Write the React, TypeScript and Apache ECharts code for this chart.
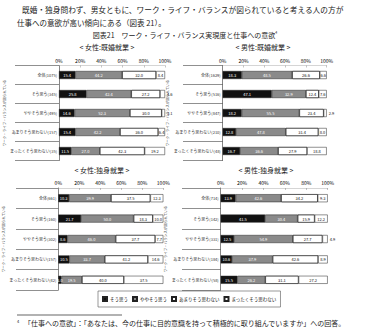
import React, { useEffect, useRef } from 'react';
import * as echarts from 'echarts';

const seriesNames = ['そう思う', 'ややそう思う', 'あまりそう思わない', 'まったくそう思わない'];
const yTitle = 'ワーク・ライフ・バランスが図られている';

const catsFemaleMarried = ['全体(1075)', 'そう思う(345)', 'ややそう思う(495)', 'あまりそう思わない(157)', 'まったくそう思わない(35)'];
const catsMaleMarried = ['全体(1629)', 'そう思う(516)', 'ややそう思う(847)', 'あまりそう思わない(210)', 'まったくそう思わない(48)'];
const catsFemaleSingle = ['全体(661)', 'そう思う(160)', 'ややそう思う(302)', 'あまりそう思わない(157)', 'まったくそう思わない(42)'];
const catsMaleSingle = ['全体(714)', 'そう思う(142)', 'ややそう思う(331)', 'あまりそう思わない(184)', 'まったくそう思わない(58)'];

const fmSou = [15.4, 25.8, 14.6, 15.4, 11.5];
const fmYaya = [44.2, 42.4, 52.3, 42.2, 27.0];
const fmAmari = [32.0, 27.2, 30.0, 36.0, 42.3];
const fmMattaku = [8.4, 4.6, 3.1, 6.4, 19.2];

const mmSou = [18.3, 47.1, 18.2, 12.8, 16.7];
const mmYaya = [48.5, 32.9, 55.5, 47.8, 36.6];
const mmAmari = [26.6, 12.4, 23.4, 31.4, 27.9];
const mmMattaku = [6.6, 7.6, 2.9, 8.0, 18.8];

const fsSou = [10.3, 21.7, 8.6, 10.5, 3.0];
const fsYaya = [39.9, 50.0, 46.0, 33.7, 19.5];
const fsAmari = [37.5, 18.3, 37.7, 41.2, 40.0];
const fsMattaku = [12.3, 10.0, 7.7, 14.6, 37.5];

const msSou = [13.9, 41.5, 12.5, 10.6, 15.5];
const msYaya = [42.6, 30.4, 54.9, 37.9, 26.2];
const msAmari = [34.2, 15.9, 27.7, 42.6, 31.1];
const msMattaku = [9.3, 12.2, 4.9, 8.9, 27.2];

const FONT = "'Noto Sans CJK JP', 'Noto Sans', sans-serif";

const panels = [
  { cats: catsFemaleMarried, vals: [fmSou, fmYaya, fmAmari, fmMattaku], grid: { left: 59, top: 65.5, width: 106, height: 95 }, boxLeft: 15 },
  { cats: catsMaleMarried, vals: [mmSou, mmYaya, mmAmari, mmMattaku], grid: { left: 222.7, top: 65.5, width: 104, height: 95 }, boxLeft: 183 },
  { cats: catsFemaleSingle, vals: [fsSou, fsYaya, fsAmari, fsMattaku], grid: { left: 58.3, top: 188, width: 105, height: 102 }, boxLeft: 16 },
  { cats: catsMaleSingle, vals: [msSou, msYaya, msAmari, msMattaku], grid: { left: 220.7, top: 188, width: 107, height: 102 }, boxLeft: 182 },
];

const fills = ['#111111', '#8a8a8a', '#ffffff', '#ffffff'];
const labelColors = ['#ffffff', '#ffffff', '#111111', '#111111'];

export default function App() {
  const ref = useRef<HTMLDivElement>(null);
  useEffect(() => {
    if (!ref.current) return;
    const chart = echarts.init(ref.current, null, { renderer: 'svg' });
    const grids: any[] = [];
    const xAxes: any[] = [];
    const yAxes: any[] = [];
    const series: any[] = [];
    panels.forEach((p, i) => {
      grids.push({ ...p.grid, containLabel: false });
      xAxes.push({
        gridIndex: i, type: 'value', position: 'top', min: 0, max: 100, interval: 20,
        axisLabel: { show: true, formatter: '{value}%', fontSize: 5, margin: 3, color: '#000', fontFamily: FONT },
        axisLine: { show: true, lineStyle: { color: '#aaa', width: 0.5 } },
        axisTick: { show: true, inside: true, length: 2, lineStyle: { color: '#888', width: 0.5 } },
        splitLine: { show: false },
      });
      const tickLen = p.grid.left - p.boxLeft;
      yAxes.push({
        gridIndex: i, type: 'category', inverse: true, data: p.cats,
        axisLabel: { fontSize: 4, margin: 2, color: '#333', fontFamily: FONT },
        axisLine: { show: true, lineStyle: { color: '#333', width: 0.6 } },
        axisTick: { show: true, length: tickLen, lineStyle: { color: '#444', width: 0.6 } },
        name: yTitle, nameLocation: 'middle', nameRotate: 90, nameGap: tickLen - 4,
        nameTextStyle: { fontSize: 3.5, color: '#444', fontFamily: FONT },
      });
      p.vals.forEach((arr, k) => {
        series.push({
          type: 'bar', name: seriesNames[k], stack: 'p' + i, xAxisIndex: i, yAxisIndex: i,
          barWidth: 8,
          data: arr.map((v) => (k === 3 && v < 5 ? { value: v, label: { position: 'right', distance: 2 } } : { value: v })),
          itemStyle: {
            color: fills[k], borderColor: '#222', borderWidth: 0.5,
            decal: k === 2 ? { symbol: 'circle', symbolSize: 0.6, dashArrayX: [1, 1], dashArrayY: [1, 1], color: '#9a9a9a' } : undefined,
          },
          label: {
            show: true, position: 'inside', fontSize: 4, color: labelColors[k], fontFamily: FONT,
            backgroundColor: k === 2 ? '#ffffff' : 'transparent',
            formatter: (q: any) => Number(q.value).toFixed(1),
          },
        });
      });
    });
    const txt = (x: number, y: number, text: string, fontSize: number, align = 'left') => ({
      type: 'text', x, y,
      style: { text, fontSize, fontFamily: FONT, fill: '#222', textAlign: align, textVerticalAlign: 'middle' },
    });
    chart.setOption({
      animation: false,
      backgroundColor: '#ffffff',
      grid: grids,
      xAxis: xAxes,
      yAxis: yAxes,
      series,
      legend: {
        data: seriesNames, left: 98, top: 291, orient: 'horizontal',
        itemWidth: 4, itemHeight: 4, itemGap: 4, icon: 'rect',
        padding: [5, 4], borderColor: '#555', borderWidth: 0.6,
        textStyle: { fontSize: 4.5, fontFamily: FONT, color: '#222', padding: [0, 0, 0, -2] },
      },
      graphic: [
        txt(22, 9, '既婚・独身問わず、男女ともに、ワーク・ライフ・バランスが図られていると考える人の方が', 7.7),
        txt(17, 22, '仕事への意欲が高い傾向にある（図表 21）。', 7.5),
        {
          type: 'text', x: 185, y: 35,
          style: {
            text: '{a|図表21　ワーク・ライフ・バランス実現度と仕事への意欲}{s|4}',
            textAlign: 'center', textVerticalAlign: 'middle',
            rich: {
              a: { fontSize: 7, fontFamily: FONT, fill: '#222' },
              s: { fontSize: 3.5, fontFamily: FONT, fill: '#222', padding: [0, 0, 5, 0] },
            },
          },
        },
        txt(107, 47, '< 女性:既婚就業 >', 7, 'center'),
        txt(263, 47, '< 男性:既婚就業 >', 7, 'center'),
        txt(102, 170, '< 女性:独身就業 >', 7, 'center'),
        txt(266, 170, '< 男性:独身就業 >', 7, 'center'),
        { type: 'line', shape: { x1: 17, y1: 315, x2: 122, y2: 315 }, style: { stroke: '#222', lineWidth: 0.7 } },
        txt(17, 321, '4', 4),
        txt(24, 323, '「仕事への意欲」：「あなたは、今の仕事に目的意識を持って積極的に取り組んでいますか」への回答。', 7),
      ],
    });
    return () => chart.dispose();
  }, []);
  return <div ref={ref} style={{ width: 370, height: 334, position: 'absolute', left: 0, top: 0 }} />;
}
